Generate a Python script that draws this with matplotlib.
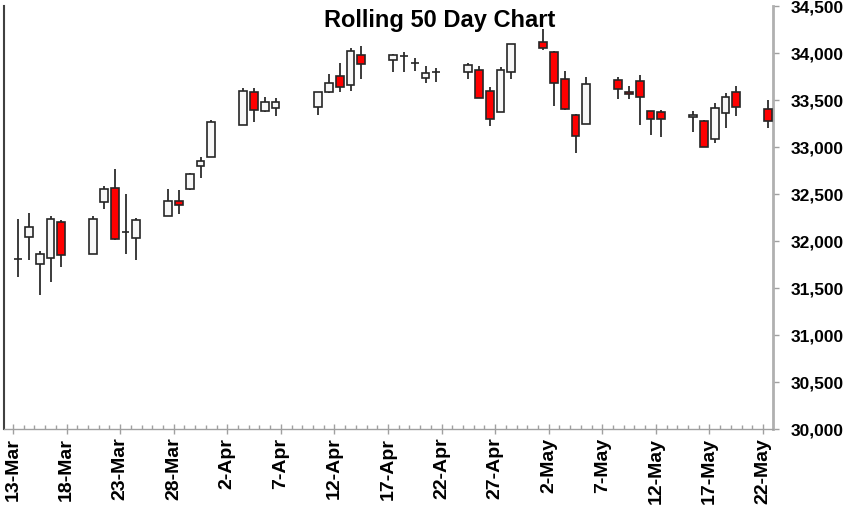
import numpy as np
import pandas as pd
import matplotlib
matplotlib.use("Agg")
import matplotlib.pyplot as plt
from matplotlib.patches import Rectangle
from matplotlib.ticker import FixedLocator, MultipleLocator, FuncFormatter

plt.rcParams["font.family"] = ["Liberation Sans", "DejaVu Sans"]

# Daily OHLC, last 50 sessions
dates = [
    "2023-03-13", "2023-03-14", "2023-03-15", "2023-03-16", "2023-03-17",
    "2023-03-20", "2023-03-21", "2023-03-22", "2023-03-23", "2023-03-24",
    "2023-03-27", "2023-03-28", "2023-03-29", "2023-03-30", "2023-03-31",
    "2023-04-03", "2023-04-04", "2023-04-05", "2023-04-06",
    "2023-04-10", "2023-04-11", "2023-04-12", "2023-04-13", "2023-04-14",
    "2023-04-17", "2023-04-18", "2023-04-19", "2023-04-20", "2023-04-21",
    "2023-04-24", "2023-04-25", "2023-04-26", "2023-04-27", "2023-04-28",
    "2023-05-01", "2023-05-02", "2023-05-03", "2023-05-04", "2023-05-05",
    "2023-05-08", "2023-05-09", "2023-05-10", "2023-05-11", "2023-05-12",
    "2023-05-15", "2023-05-16", "2023-05-17", "2023-05-18", "2023-05-19",
    "2023-05-22",
]
opens = [
    31808, 32047, 31755, 31822, 32207,
    31865, 32415, 32564, 32097, 32033,
    32271, 32423, 32556, 32801, 32893,
    33239, 33587, 33384, 33416,
    33421, 33581, 33758, 33662, 33976,
    33929, 33971, 33894, 33737, 33801,
    33801, 33822, 33591, 33374, 33794,
    34114, 34014, 33720, 33342, 33242,
    33712, 33584, 33701, 33378, 33370,
    33314, 33274, 33082, 33367, 33581,
    33402,
]
highs = [
    32235, 32300, 31897, 32271, 32220,
    32265, 32584, 32762, 32502, 32249,
    32556, 32538, 32720, 32897, 33282,
    33623, 33627, 33534, 33517,
    33590, 33773, 33890, 34050, 34075,
    33985, 34014, 33944, 33865, 33843,
    33894, 33865, 33634, 33848, 34100,
    34257, 34020, 33805, 33350, 33741,
    33741, 33645, 33765, 33385, 33395,
    33384, 33285, 33466, 33573, 33645,
    33502,
]
lows = [
    31616, 31801, 31427, 31566, 31723,
    31860, 32345, 32007, 31862, 31801,
    32271, 32289, 32538, 32673, 32890,
    33239, 33271, 33374, 33325,
    33342, 33578, 33587, 33598, 33723,
    33794, 33794, 33811, 33680, 33687,
    33723, 33520, 33224, 33370, 33723,
    34035, 33431, 33392, 32933, 33240,
    33509, 33509, 33235, 33125, 33107,
    33160, 33000, 33047, 33207, 33331,
    33207,
]
closes = [
    31808, 32146, 31865, 32235, 31854,
    32235, 32556, 32022, 32097, 32228,
    32423, 32385, 32712, 32855, 33271,
    33598, 33395, 33474, 33477,
    33581, 33680, 33640, 34025, 33883,
    33979, 33971, 33894, 33784, 33801,
    33872, 33523, 33296, 33819, 34093,
    34050, 33680, 33402, 33122, 33669,
    33616, 33559, 33527, 33303, 33296,
    33342, 33004, 33416, 33534, 33421,
    33278,
]

start = pd.Timestamp("2023-03-13")
day = (pd.to_datetime(dates) - start).days.values + 0.5
body_w = 0.74

fig = plt.figure(figsize=(8.51, 5.06), dpi=100)
ax = fig.add_axes([4 / 851, 1 - 430 / 506, 769 / 851, 423 / 506])

# wicks
ax.vlines(day, lows, highs, color="#1a1a1a", linewidth=1.2, zorder=2)

# bodies
for x, o, c in zip(day, opens, closes):
    face = "#ff0000" if c < o else "#f7f7f7"
    lo = min(o, c)
    ax.add_patch(Rectangle((x - body_w / 2, lo), body_w, abs(c - o),
                           facecolor=face, edgecolor="#262626",
                           linewidth=1.2, zorder=3))

ax.set_xlim(-0.84, 70.93)
ax.set_ylim(30000, 34500)

# x axis: one tick per day, labels every 5 days
major = np.arange(0, 71, 5)
ax.xaxis.set_major_locator(FixedLocator(major))
ax.xaxis.set_minor_locator(MultipleLocator(1))
ax.set_xticklabels([(start + pd.Timedelta(days=int(d))).strftime("%-d-%b") for d in major],
                   rotation=90, fontsize=14, fontweight="bold")
ax.tick_params(axis="x", which="major", direction="inout", length=7,
               color="#a0a0a0", width=1, pad=2)
ax.tick_params(axis="x", which="minor", direction="in", length=3,
               color="#a0a0a0", width=1)

# y axis on the right
ax.yaxis.tick_right()
ax.yaxis.set_major_locator(MultipleLocator(500))
ax.yaxis.set_major_formatter(FuncFormatter(lambda v, p: f"{v:,.0f}"))
ax.tick_params(axis="y", direction="out", length=4, color="#a0a0a0",
               width=1, pad=9, labelsize=12.5)
for t in ax.get_yticklabels():
    t.set_fontweight("bold")

ax.spines["top"].set_visible(False)
ax.spines["left"].set_color("#404040")
ax.spines["left"].set_linewidth(1.5)
ax.spines["right"].set_color("#b0b0b0")
ax.spines["right"].set_linewidth(2)
ax.spines["bottom"].set_color("#a0a0a0")
ax.spines["bottom"].set_linewidth(1)

fig.text(440 / 851, 1 - 20 / 506, "Rolling 50 Day Chart", ha="center",
         va="center", fontsize=17, fontweight="bold")

fig.savefig("out.png", dpi=100)
